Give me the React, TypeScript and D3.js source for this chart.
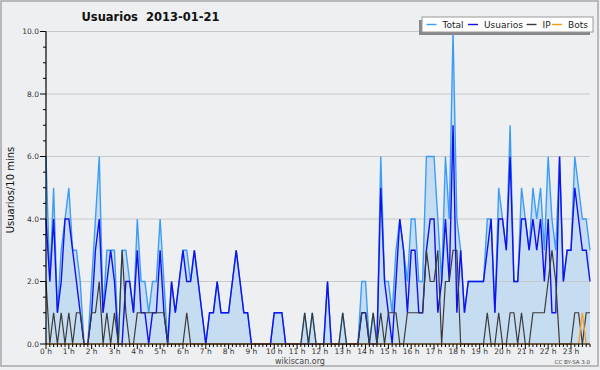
import React from "react";
import * as d3 from "d3";

const W = 600;
const H = 370;

const hourLabels = ["0 h","1 h","2 h","3 h","4 h","5 h","6 h","7 h","8 h","9 h","10 h","11 h","12 h","13 h","14 h","15 h","16 h","17 h","18 h","19 h","20 h","21 h","22 h","23 h"];
const yTicks = [0, 2, 4, 6, 8, 10];

const total = [
  6,2,5,1,3,4,5,3,3,2,
  0,0,2,4,6,1,3,3,3,0,
  3,3,2,1,4,2,2,1,2,2,
  4,2,0,2,1,2,3,3,2,3,
  2,1,0,1,1,2,1,1,1,2,
  3,2,1,1,0,0,0,0,0,0,
  1,1,1,0,0,0,0,0,1,0,
  1,0,0,0,2,0,0,0,1,0,
  0,0,0,2,2,0,1,0,6,2,
  2,1,3,4,3,2,4,4,2,2,
  6,6,6,4,2,6,4,10,4,3,
  1,2,2,2,2,2,4,4,1,5,
  4,3,7,2,2,5,4,3,5,4,
  5,3,6,4,3,6,2,3,3,6,
  5,4,4,3
];

const usuarios = [
  4,2,4,1,2,4,4,3,2,1,
  0,0,1,3,4,1,2,3,2,0,
  0,2,2,1,3,1,1,0,1,1,
  3,1,0,2,1,2,3,2,2,3,
  2,1,0,1,1,2,1,1,1,2,
  3,2,1,1,0,0,0,0,0,0,
  1,1,1,0,0,0,0,0,0,0,
  0,0,0,0,2,0,0,0,0,0,
  0,0,0,1,1,0,0,0,5,2,
  1,0,2,4,3,1,3,3,1,1,
  3,4,4,1,2,4,2,7,1,3,
  1,2,2,2,2,2,3,4,1,4,
  4,3,6,2,2,4,4,3,4,3,
  4,2,4,1,1,6,2,3,3,5,
  4,3,3,2
];

const ip = [
  2,0,1,0,1,0,1,0,1,1,
  0,0,1,1,2,0,1,0,1,0,
  3,1,0,0,1,1,1,1,1,1,
  1,1,0,0,0,0,0,1,0,0,
  0,0,0,0,0,0,0,0,0,0,
  0,0,0,0,0,0,0,0,0,0,
  0,0,0,0,0,0,0,0,1,0,
  1,0,0,0,0,0,0,0,1,0,
  0,0,0,1,1,0,1,0,1,0,
  1,1,1,0,0,1,1,1,1,1,
  3,2,2,3,0,2,2,3,3,0,
  0,0,0,0,0,0,1,0,0,1,
  0,0,1,1,0,1,0,0,1,1,
  1,1,2,3,2,0,0,0,0,1,
  1,0,1,1
];

const bots = [
  0,0,0,0,0,0,0,0,0,0,
  0,0,0,0,0,0,0,0,0,0,
  0,0,0,0,0,0,0,0,0,0,
  0,0,0,0,0,0,0,0,0,0,
  0,0,0,0,0,0,0,0,0,0,
  0,0,0,0,0,0,0,0,0,0,
  0,0,0,0,0,0,0,0,0,0,
  0,0,0,0,0,0,0,0,0,0,
  0,0,0,0,0,0,0,0,0,0,
  0,0,0,0,0,0,0,0,0,0,
  0,0,0,0,0,0,0,0,0,0,
  0,0,0,0,0,0,0,0,0,0,
  0,0,0,0,0,0,0,0,0,0,
  0,0,0,0,0,0,0,0,0,0,
  0,1,0,0
];

const legendItems = [
  { name: "Total", color: "#3d9df5" },
  { name: "Usuarios", color: "#1010f0" },
  { name: "IP", color: "#3a3a3a" },
  { name: "Bots", color: "#ff9a10" },
];

export default function App() {
  const x0 = 46, x1 = 590, y0 = 344, y1 = 31.5;
  const x = d3.scaleLinear().domain([0, total.length - 1]).range([x0, x1]);
  const y = d3.scaleLinear().domain([0, 10]).range([y0, y1]);

  const line = d3.line<number>().x((_, i) => x(i)).y((d) => y(d));
  const area = d3.area<number>().x((_, i) => x(i)).y0(y(0)).y1((d) => y(d));

  const font = "'DejaVu Sans', Verdana, sans-serif";
  const yMinor = d3.range(0, 10.01, 0.5);
  const xMinor = d3.range(0, total.length);

  return (
    <svg width={W} height={H} style={{ position: "absolute", left: 0, top: 0, display: "block" }} xmlns="http://www.w3.org/2000/svg">
      <rect x={0} y={0} width={W} height={H} fill="#eeeff1" />
      <rect x={1} y={1} width={597} height={365} fill="none" stroke="#a8a8a8" strokeWidth={1.5} />

      <text x={150.5} y={20.5} textAnchor="middle" fontFamily={font} fontWeight="bold" fontSize={11.5} fill="#111" xmlSpace="preserve">Usuarios  2013-01-21</text>

      <path d={area(total) || ""} fill="#c6dcf0" />

      {yTicks.filter((t) => t > 0).map((t) => (
        <line key={"g" + t} x1={x0} x2={x1} y1={y(t)} y2={y(t)} stroke="#c8c8c8" strokeWidth={1} />
      ))}

      <path d={line(total) || ""} fill="none" stroke="#3d9df5" strokeWidth={1.4} />
      <path d={line(usuarios) || ""} fill="none" stroke="#1010f0" strokeWidth={1.4} />
      <path d={line(ip) || ""} fill="none" stroke="#3a3a3a" strokeWidth={1.2} />
      <path d={line(bots) || ""} fill="none" stroke="#ff9a10" strokeWidth={1.2} />

      {/* axes */}
      <line x1={x0} x2={x0} y1={y1} y2={y0} stroke="#000" strokeWidth={1.2} />
      <line x1={x0} x2={x1} y1={y0} y2={y0} stroke="#000" strokeWidth={1.2} />
      {yMinor.map((t) => (
        <line key={"ym" + t} x1={x0 - (t % 2 === 0 ? 6 : 3)} x2={x0} y1={y(t)} y2={y(t)} stroke="#000" strokeWidth={1} />
      ))}
      {yTicks.map((t) => (
        <text key={"yl" + t} x={x0 - 7} y={y(t) + 2.5} textAnchor="end" fontFamily={font} fontSize={7.5} fill="#333">{t.toFixed(1)}</text>
      ))}
      {xMinor.map((i) => (
        <line key={"xm" + i} x1={x(i)} x2={x(i)} y1={y0} y2={y0 + (i % 6 === 0 ? 5 : 3)} stroke="#000" strokeWidth={1} />
      ))}
      {hourLabels.map((h, k) => (
        <text key={"xl" + k} x={x(k * 6)} y={354} textAnchor="middle" fontFamily={font} fontSize={7.5} fill="#333">{h}</text>
      ))}

      <text x={14} y={190} transform="rotate(-90 14 190)" textAnchor="middle" fontFamily={font} fontSize={10} fill="#111">Usuarios/10 mins</text>

      <text x={300} y={364} textAnchor="middle" fontFamily={font} fontSize={8} fill="#444">wikiscan.org</text>
      <text x={590} y={364} textAnchor="end" fontFamily={font} fontSize={5.5} fill="#444">CC BY-SA 3.0</text>

      {/* legend */}
      <rect x={419} y={20} width={171} height={15} fill="#888" />
      <rect x={422} y={17} width={171} height={15} fill="#fff" stroke="#999" strokeWidth={1} />
      {legendItems.map((it, k) => {
        const starts = [426.5, 468, 526.5, 552];
        const sx = starts[k];
        return (
          <g key={it.name}>
            <line x1={sx} x2={sx + 10} y1={24.5} y2={24.5} stroke={it.color} strokeWidth={1.4} />
            <text x={sx + 16} y={28} fontFamily={font} fontSize={9} fill="#222">{it.name}</text>
          </g>
        );
      })}
    </svg>
  );
}
